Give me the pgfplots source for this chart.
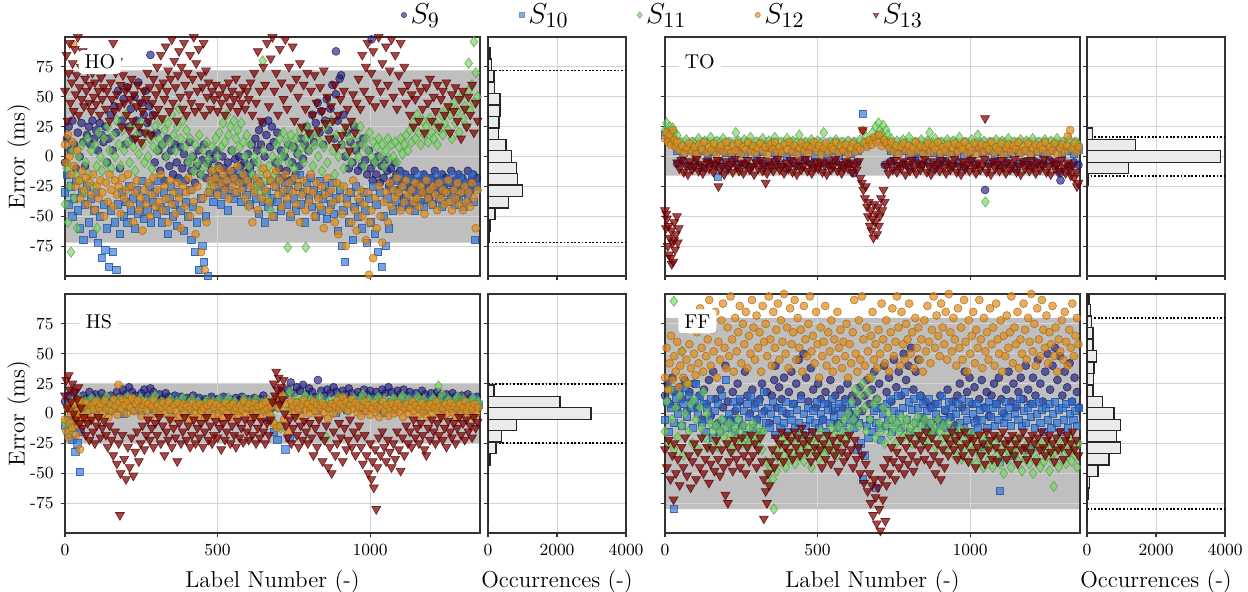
\documentclass[border=0pt]{standalone}
\usepackage{pgfplots}
\pgfplotsset{compat=1.18}
\definecolor{c9}{RGB}{30,30,130}
\definecolor{c10}{RGB}{45,115,220}
\definecolor{c11}{RGB}{115,215,95}
\definecolor{c12}{RGB}{225,140,25}
\definecolor{c13}{RGB}{125,0,0}
\tikzset{tag/.style={fill=white, rounded corners=2pt, inner xsep=3pt, inner ysep=2pt, minimum height=12pt, font=\fontsize{10}{11}\selectfont}}
\pgfplotsset{
 common/.style={set layers, scale only axis, height=119.5pt, enlargelimits=false,
  axis line style={black!80, line width=0.6pt}, tick style={black!80, line width=0.6pt},
  tick align=outside, major tick length=2.2pt, xtick pos=bottom, ytick pos=left,
  grid=major, grid style={black!17, line width=0.5pt},
  tick label style={font=\fontsize{8.5}{9}\selectfont},
  label style={font=\fontsize{11.5}{12}\selectfont}, ylabel shift=-7pt,
  ymin=-100, ymax=100, ytick={-75,-50,-25,0,25,50,75}},
 sc/.style={common, width=207.5pt, xmin=0, xmax=1360, xtick={0,500,1000}, xticklabels={0,500,1000},
  yticklabels={-75,-50,-25,0,25,50,75}},
 hi/.style={common, width=69pt, xmin=0, xmax=4000, xtick={0,2000,4000}, xticklabels={0,2000,4000}, yticklabels={}},
 band/.style={draw=none, fill=black!25, on layer=axis background, forget plot},
 bars/.style={xbar, bar width=9.6, fill=black!8, draw=black!85, line width=0.7pt, forget plot},
 dot/.style={black, line width=0.9pt, dash pattern=on 0.9pt off 0.9pt, forget plot},
 s9/.style={only marks, forget plot, mark=*, mark size=2.0pt, mark options={fill=c9, draw=c9!60!black, line width=0.3pt, fill opacity=0.65, draw opacity=0.75}},
 s10/.style={only marks, forget plot, mark=square*, mark size=1.8pt, mark options={fill=c10, draw=c10!70!black, line width=0.3pt, fill opacity=0.65, draw opacity=0.75}},
 s11/.style={only marks, forget plot, mark=diamond*, mark size=2.6pt, mark options={fill=c11, draw=c11!70!black, line width=0.3pt, fill opacity=0.65, draw opacity=0.75}},
 s12/.style={only marks, forget plot, mark=*, mark size=2.0pt, mark options={fill=c12, draw=c12!70!black, line width=0.3pt, fill opacity=0.7, draw opacity=0.75}},
 s13/.style={only marks, forget plot, mark=triangle*, mark size=2.6pt, mark options={rotate=180, fill=c13, draw=c13!70!black, line width=0.3pt, fill opacity=0.72, draw opacity=0.8}},
}
\begin{document}
\begin{tikzpicture}
% ================= HO =================
\begin{axis}[sc, at={(32.5pt,157.5pt)}, anchor=south west, xticklabels={}, ylabel={Error (ms)},
 legend style={at={(0.795,1.092)}, anchor=west, legend columns=5, draw=none, fill=none,
  font=\fontsize{15}{16}\selectfont, /tikz/every even column/.append style={column sep=28.5pt}},
 legend cell align=left]
\addlegendimage{only marks, mark=*, mark size=1.3pt, mark options={fill=c9, draw=c9!60!black, opacity=0.6}}
\addlegendentry{\makebox[24pt][l]{$S_{9}$}}
\addlegendimage{only marks, mark=square*, mark size=1.2pt, mark options={fill=c10, draw=c10!70!black, opacity=0.6}}
\addlegendentry{\makebox[24pt][l]{$S_{10}$}}
\addlegendimage{only marks, mark=diamond*, mark size=1.6pt, mark options={fill=c11, draw=c11!70!black, opacity=0.6}}
\addlegendentry{\makebox[24pt][l]{$S_{11}$}}
\addlegendimage{only marks, mark=*, mark size=1.3pt, mark options={fill=c12, draw=c12!70!black, opacity=0.6}}
\addlegendentry{\makebox[24pt][l]{$S_{12}$}}
\addlegendimage{only marks, mark=triangle*, mark size=1.5pt, mark options={rotate=180, fill=c13, draw=c13!70!black, opacity=0.6}}
\addlegendentry{\makebox[24pt][l]{$S_{13}$}}
\addplot[band] coordinates {(0,-72)(1360,-72)(1360,72)(0,72)} \closedcycle;
\addplot[s9] coordinates {(0,-5)(6,15)(12,25)(18,5)(24,30)(30,10)(36,-10)(42,20)(48,0)(54,28)(60,12)(66,-8)(72,18)(78,25)(84,10)(90,30)(96,15)(102,22)(108,5)(114,28)(120,18)(126,12)(132,25)(138,-5)(144,15)(150,35)(156,5)(162,42)(168,20)(174,55)(180,-10)(186,30)(192,48)(198,10)(204,58)(210,25)(216,40)(222,15)(228,50)(234,30)(240,62)(246,20)(252,45)(258,35)(264,55)(270,28)(276,42)(280,85)(282,18)(288,35)(294,-5)(300,20)(306,5)(312,-12)(318,10)(324,-20)(330,0)(336,15)(342,-8)(348,5)(354,-15)(360,10)(366,-5)(372,-18)(378,8)(384,-10)(390,2)(396,-20)(402,-5)(408,12)(414,-12)(420,0)(426,-22)(432,-8)(438,5)(444,-15)(450,-3)(456,10)(462,-18)(468,-6)(474,2)(480,-12)(486,-2)(492,-15)(498,5)(504,-8)(510,-20)(516,0)(522,-10)(528,-25)(534,-5)(540,-15)(546,5)(552,-12)(558,-2)(564,-18)(570,0)(576,-8)(582,-22)(588,-5)(594,-14)(600,2)(606,-10)(612,10)(618,-5)(624,15)(630,5)(636,22)(642,10)(648,28)(654,0)(660,18)(666,30)(672,8)(678,25)(684,12)(690,-5)(696,20)(702,-10)(708,5)(714,-18)(720,0)(726,-12)(732,10)(738,-20)(744,-5)(750,8)(756,-15)(762,2)(768,-8)(774,15)(780,-2)(786,10)(792,25)(798,5)(804,18)(810,35)(816,12)(822,28)(828,45)(834,20)(840,38)(846,10)(852,30)(858,48)(864,22)(870,40)(876,60)(882,15)(888,88)(888,52)(894,30)(900,65)(905,68)(906,10)(912,35)(918,0)(924,20)(930,-10)(936,12)(942,-5)(948,25)(954,5)(960,-12)(966,10)(972,-8)(978,15)(984,-3)(990,-15)(996,5)(1002,-10)(1005,98)(1008,-20)(1014,-5)(1020,-15)(1026,0)(1032,-22)(1038,-8)(1044,-18)(1050,-3)(1056,-12)(1062,-25)(1068,-10)(1074,-20)(1080,-5)(1086,-15)(1092,-28)(1098,-12)(1104,-22)(1110,-35)(1116,-15)(1122,-25)(1128,-40)(1134,-18)(1140,-30)(1146,-12)(1152,-25)(1158,-38)(1164,-20)(1170,-30)(1176,-15)(1182,-28)(1188,-22)(1194,-35)(1200,-18)(1206,-28)(1212,-12)(1218,-25)(1224,-20)(1230,-32)(1236,-15)(1242,-25)(1248,-18)(1254,-30)(1260,-22)(1266,-12)(1272,-28)(1278,-20)(1284,-35)(1290,-15)(1296,-25)(1302,-18)(1308,-30)(1314,-22)(1320,-12)(1326,-28)(1332,-20)(1338,-15)(1344,-25)(1350,-18)};
\addplot[s10] coordinates {(0,-30)(6,-15)(12,-40)(18,-25)(24,-50)(30,-35)(36,-20)(42,-45)(48,-60)(54,-30)(60,-70)(66,-40)(72,-25)(78,-55)(84,-35)(90,-65)(96,-45)(102,-30)(108,-72)(114,-50)(120,-85)(126,-40)(132,-78)(138,-60)(144,-92)(150,-45)(156,-80)(162,-55)(168,-95)(174,-40)(180,-65)(186,-30)(192,-50)(198,-38)(204,-55)(210,-25)(216,-45)(222,-35)(228,-60)(234,-28)(240,-48)(246,-40)(252,-20)(258,-52)(264,-35)(270,-45)(276,-25)(282,-55)(288,-38)(294,-30)(300,-48)(306,-20)(312,-42)(318,-55)(324,-30)(330,-45)(336,-65)(342,-35)(348,-25)(354,-50)(360,-40)(366,-58)(372,-30)(378,-45)(384,-20)(390,-62)(396,-38)(402,-50)(408,-28)(414,-70)(420,-42)(426,-80)(432,-55)(438,-95)(444,-35)(450,-75)(456,-88)(462,-50)(468,-100)(474,-30)(480,-22)(486,-38)(492,-15)(498,-30)(504,-25)(510,-40)(516,-18)(522,-32)(528,-22)(534,-45)(540,-28)(546,-15)(552,-35)(558,-20)(564,-30)(570,-12)(576,-38)(582,-25)(588,-18)(594,-32)(600,-22)(606,-40)(612,-15)(618,-28)(624,-35)(630,-20)(636,-48)(642,-25)(648,-38)(654,-55)(660,-30)(666,-42)(672,-20)(678,-35)(684,-50)(690,-25)(696,-38)(702,-18)(708,-45)(714,-30)(720,-22)(726,-40)(732,-28)(738,-50)(744,-20)(750,-35)(756,-45)(762,-25)(768,-15)(774,-40)(780,-30)(786,-55)(792,-22)(798,-35)(804,-18)(810,-42)(816,-28)(822,-50)(828,-32)(834,-20)(840,-45)(846,-35)(852,-25)(858,-52)(864,-30)(870,-40)(876,-22)(882,-48)(888,-35)(894,-62)(900,-28)(906,-75)(912,-45)(918,-88)(924,-35)(930,-55)(936,-30)(942,-70)(948,-42)(954,-25)(960,-50)(966,-38)(972,-60)(978,-30)(984,-45)(990,-72)(996,-35)(1002,-55)(1008,-25)(1014,-65)(1020,-40)(1026,-80)(1032,-30)(1038,-92)(1044,-50)(1050,-75)(1056,-35)(1062,-60)(1068,-28)(1074,-45)(1080,-20)(1086,-38)(1092,-30)(1098,-15)(1104,-42)(1110,-25)(1116,-35)(1122,-18)(1128,-40)(1134,-28)(1140,-20)(1146,-45)(1152,-30)(1158,-15)(1164,-38)(1170,-25)(1176,-42)(1182,-18)(1188,-35)(1194,-28)(1200,-20)(1206,-40)(1212,-30)(1218,-15)(1224,-35)(1230,-25)(1236,-42)(1242,-20)(1248,-30)(1254,-38)(1260,-22)(1266,-32)(1272,-15)(1278,-40)(1284,-25)(1290,-35)(1296,-18)(1302,-30)(1308,-42)(1314,-22)(1320,-35)(1326,-28)(1332,-15)(1338,-38)(1344,-70)(1350,-25)};
\addplot[s11] coordinates {(0,-40)(5,-10)(10,-55)(15,-25)(20,-80)(25,5)(30,-35)(35,-15)(40,-60)(45,0)(50,-20)(56,10)(62,-30)(68,-5)(74,15)(80,-15)(86,5)(92,-25)(98,10)(104,-8)(105,-60)(110,20)(116,0)(122,-12)(128,15)(134,-5)(140,25)(146,5)(152,-10)(158,18)(164,0)(170,30)(176,10)(182,-8)(188,22)(194,5)(200,35)(206,12)(212,-5)(218,25)(224,8)(230,-12)(236,18)(242,2)(248,28)(254,10)(260,-5)(266,20)(272,0)(278,15)(284,-10)(290,8)(296,25)(302,5)(308,15)(314,30)(320,10)(326,22)(332,0)(338,28)(344,12)(350,35)(356,18)(362,5)(368,25)(374,40)(380,15)(386,30)(392,8)(398,22)(404,-5)(410,15)(416,0)(422,-12)(428,10)(434,-5)(440,18)(446,-15)(452,5)(458,-8)(464,12)(470,-2)(476,-25)(482,8)(488,-10)(494,15)(500,0)(506,20)(512,8)(518,28)(524,12)(530,35)(536,18)(542,25)(548,5)(554,30)(560,15)(566,22)(572,8)(578,28)(584,12)(590,0)(596,18)(602,-8)(608,10)(614,-15)(620,0)(626,-25)(632,-5)(638,-30)(644,-12)(648,80)(650,5)(656,-20)(662,-35)(668,-8)(674,-45)(680,0)(686,-15)(692,10)(698,-5)(704,15)(710,0)(716,20)(722,5)(728,12)(730,-76)(734,-5)(740,18)(746,8)(752,-10)(758,15)(764,2)(770,22)(776,8)(782,-5)(788,15)(789,-76)(794,25)(800,5)(806,18)(812,-8)(818,10)(824,20)(830,0)(836,12)(842,-12)(848,8)(854,25)(860,-5)(866,15)(872,30)(878,5)(884,-15)(890,18)(896,0)(902,-25)(908,10)(914,-10)(920,22)(926,2)(932,15)(938,-5)(944,28)(950,8)(956,18)(962,0)(968,25)(974,10)(980,-8)(986,15)(992,5)(998,20)(1004,0)(1010,12)(1016,-5)(1022,8)(1028,15)(1034,0)(1040,10)(1046,-8)(1052,5)(1058,15)(1064,-2)(1070,10)(1076,0)(1082,12)(1088,-5)(1094,8)(1100,15)(1106,2)(1112,10)(1118,18)(1124,5)(1130,22)(1136,12)(1142,28)(1148,15)(1154,35)(1160,20)(1166,10)(1172,30)(1178,18)(1184,25)(1190,12)(1196,32)(1202,20)(1208,15)(1214,28)(1220,10)(1226,22)(1232,35)(1238,18)(1244,28)(1250,40)(1256,22)(1262,35)(1268,15)(1274,45)(1280,28)(1286,38)(1292,20)(1298,50)(1304,32)(1310,42)(1316,25)(1322,55)(1323,78)(1328,38)(1334,60)(1340,96)(1340,45)(1346,70)(1352,50)};
\addplot[s12] coordinates {(0,10)(5,-5)(10,18)(15,0)(20,-15)(25,12)(27,94)(30,-8)(35,-25)(40,5)(45,-20)(50,-35)(56,-12)(62,-28)(68,-18)(74,-40)(80,-22)(86,-32)(92,-15)(98,-45)(104,-25)(110,-35)(116,-20)(122,-30)(128,-50)(134,-22)(140,-38)(146,-15)(152,-28)(158,-42)(164,-20)(170,-32)(176,-25)(182,-48)(188,-18)(194,-35)(200,-28)(206,-15)(212,-40)(218,-25)(224,-55)(230,-30)(236,-20)(242,-45)(248,-35)(254,-62)(260,-28)(266,-40)(272,-22)(278,-50)(284,-32)(290,-18)(296,-42)(302,-28)(308,-38)(314,-15)(320,-45)(326,-25)(332,-35)(338,-55)(344,-20)(350,-40)(356,-30)(362,-48)(368,-22)(374,-35)(380,-60)(386,-25)(392,-42)(398,-30)(404,-18)(410,-50)(416,-28)(422,-38)(428,-65)(434,-25)(440,-45)(446,-80)(452,-35)(458,-95)(464,-55)(470,-30)(476,-20)(482,-12)(488,-25)(494,-18)(500,-32)(506,-10)(512,-22)(518,-15)(524,-28)(530,-20)(536,-35)(542,-12)(548,-25)(554,-18)(560,-30)(566,-8)(572,-22)(578,-28)(584,-15)(590,-35)(596,-20)(602,-42)(608,-25)(614,-55)(620,-30)(626,-18)(632,-45)(638,-22)(644,-35)(650,-10)(656,-28)(662,-15)(668,-38)(674,-20)(680,-50)(686,-25)(692,-12)(698,-32)(704,-20)(710,-42)(716,-28)(722,-15)(728,-35)(734,-22)(740,-48)(746,-30)(752,-18)(758,-40)(764,-25)(770,-55)(776,-32)(782,-20)(788,-45)(794,-28)(800,-38)(806,-15)(812,-30)(818,-50)(824,-22)(830,-35)(836,-42)(842,-25)(848,-60)(854,-32)(860,-18)(866,-45)(872,-28)(878,-38)(884,-55)(890,-22)(896,-65)(902,-35)(908,-48)(914,-25)(920,-75)(926,-40)(932,-30)(938,-55)(944,-20)(950,-45)(956,-62)(962,-35)(968,-28)(974,-50)(980,-40)(986,-70)(992,-30)(996,-99)(998,-55)(1004,-45)(1010,-85)(1016,-35)(1022,-60)(1028,-25)(1034,-50)(1040,-72)(1046,-38)(1052,-30)(1058,-55)(1064,-22)(1070,-42)(1076,-28)(1082,-35)(1088,-18)(1094,-30)(1100,-45)(1106,-25)(1112,-38)(1118,-20)(1124,-32)(1130,-45)(1136,-28)(1142,-38)(1148,-22)(1154,-35)(1160,-42)(1166,-25)(1172,-30)(1178,-48)(1184,-20)(1190,-35)(1196,-28)(1202,-40)(1208,-25)(1214,-32)(1220,-45)(1226,-22)(1232,-35)(1238,-28)(1244,-40)(1250,-30)(1256,-20)(1262,-38)(1268,-45)(1274,-28)(1280,-35)(1286,-22)(1292,-40)(1298,-30)(1304,-45)(1310,-25)(1316,-38)(1322,-30)(1328,-42)(1334,-22)(1340,-35)(1346,-60)(1352,-28)};
\addplot[s13] coordinates {(0,55)(5,85)(8,30)(12,70)(15,95)(18,45)(22,62)(25,78)(28,38)(32,90)(35,52)(38,68)(42,100)(45,35)(48,58)(52,75)(55,48)(58,88)(62,42)(66,65)(70,55)(74,72)(78,45)(82,60)(86,38)(90,70)(94,50)(98,62)(102,44)(106,78)(110,55)(114,35)(118,66)(122,48)(126,58)(130,72)(134,40)(138,55)(142,85)(146,30)(150,62)(154,48)(158,95)(162,38)(166,70)(170,52)(174,80)(178,42)(182,60)(186,25)(190,68)(194,45)(198,55)(202,35)(206,58)(210,22)(214,48)(218,65)(222,30)(226,52)(230,15)(234,42)(238,60)(242,25)(246,45)(250,12)(254,38)(258,55)(262,20)(266,48)(270,70)(274,30)(278,58)(282,18)(286,45)(290,65)(294,35)(298,52)(302,75)(306,40)(310,58)(314,85)(318,32)(322,62)(326,48)(330,92)(334,55)(338,72)(342,38)(346,65)(350,98)(354,45)(358,80)(362,58)(366,30)(370,68)(374,88)(378,50)(382,75)(386,40)(390,95)(394,60)(398,35)(402,70)(406,52)(410,85)(414,45)(418,65)(422,100)(426,38)(430,78)(434,55)(438,90)(442,42)(446,68)(450,58)(454,95)(458,35)(462,72)(466,50)(470,62)(476,40)(482,55)(488,48)(494,60)(500,38)(506,52)(512,45)(518,58)(524,35)(530,50)(536,62)(542,42)(548,55)(554,48)(560,65)(566,38)(572,52)(578,45)(584,58)(590,40)(596,55)(602,48)(608,62)(614,35)(620,70)(626,45)(632,88)(638,55)(644,30)(650,75)(656,60)(662,95)(668,42)(674,82)(680,100)(686,55)(692,70)(698,35)(704,90)(710,62)(716,48)(722,98)(728,40)(734,75)(740,58)(746,92)(752,30)(758,65)(764,50)(770,78)(776,25)(782,60)(788,40)(794,70)(800,20)(806,55)(812,35)(818,68)(824,45)(830,22)(836,58)(842,38)(848,72)(854,28)(860,50)(866,15)(872,42)(878,30)(884,60)(890,8)(896,35)(902,48)(908,18)(914,55)(920,25)(926,40)(932,5)(938,30)(944,52)(950,20)(956,45)(962,65)(968,40)(974,85)(980,55)(986,75)(992,95)(998,48)(1004,70)(1010,88)(1016,42)(1022,62)(1028,100)(1034,55)(1040,78)(1046,45)(1052,92)(1058,60)(1064,72)(1070,98)(1076,50)(1082,85)(1088,40)(1094,68)(1100,95)(1106,55)(1112,75)(1118,45)(1124,60)(1130,35)(1136,52)(1142,25)(1148,48)(1154,62)(1160,30)(1166,55)(1172,40)(1178,20)(1184,58)(1190,45)(1196,65)(1202,30)(1208,50)(1214,38)(1220,60)(1226,25)(1232,48)(1238,55)(1244,35)(1250,62)(1256,42)(1262,20)(1268,52)(1274,38)(1280,58)(1286,30)(1292,48)(1298,15)(1304,55)(1310,40)(1316,25)(1322,50)(1328,35)(1334,60)(1340,20)(1346,45)(1352,30)};
\end{axis}
\begin{axis}[hi, at={(244pt,157.5pt)}, anchor=south west, xticklabels={}]
\addplot[dot] coordinates {(0,72)(4000,72)};
\addplot[dot] coordinates {(0,-72)(4000,-72)};
\addplot[bars] coordinates {(20,96)(58,86.4)(106,76.8)(174,67.2)(193,57.6)(348,48)(348,38.4)(319,28.8)(300,19.2)(522,9.6)(686,0)(831,-9.6)(850,-19.2)(1005,-28.8)(589,-38.4)(203,-48)(58,-57.6)(29,-67.2)(20,-76.8)(15,-86.4)(10,-96)};
\end{axis}
% ================= TO =================
\begin{axis}[sc, at={(332.5pt,157.5pt)}, anchor=south west, xticklabels={}, yticklabels={}]
\addplot[band] coordinates {(0,-16)(1360,-16)(1360,16)(0,16)} \closedcycle;
\addplot[s9] coordinates {(40,-6)(60,-4)(80,-8)(100,-5)(120,-9)(140,-3)(160,-7)(180,-5)(200,-10)(220,-4)(240,-7)(260,-6)(280,-9)(300,-3)(320,-6)(340,-8)(360,-4)(380,-7)(400,-10)(420,-5)(440,-8)(460,-3)(480,-6)(500,-9)(520,-5)(540,-7)(560,-4)(580,-8)(600,-6)(618,-14)(630,-5)(720,-7)(740,-4)(760,-8)(780,-6)(800,-9)(820,-3)(840,-7)(860,-5)(880,-10)(900,-6)(920,-4)(940,-8)(960,-5)(980,-9)(1000,-3)(1020,-7)(1049,-28)(1060,-6)(1080,-4)(1100,-8)(1120,-5)(1143,-10)(1160,-6)(1180,-4)(1200,-8)(1220,-5)(1240,-7)(1260,-3)(1280,-6)(1294,-14)(1296,-20)(1320,-8)(1340,-5)(1355,-7)};
\addplot[s10] coordinates {(0,18)(8,22)(16,15)(24,20)(32,12)(40,5)(60,3)(80,6)(100,2)(120,5)(140,1)(160,4)(173,-17)(180,6)(200,3)(220,0)(240,5)(260,2)(280,6)(300,1)(320,4)(340,7)(360,3)(380,5)(400,0)(420,4)(440,2)(455,8)(470,6)(490,1)(510,4)(530,2)(550,5)(570,1)(590,4)(610,2)(630,5)(648,36)(660,10)(680,14)(700,18)(720,12)(740,5)(760,2)(780,5)(800,1)(820,4)(840,2)(860,6)(880,3)(900,0)(920,4)(940,2)(960,5)(980,1)(1000,4)(1020,7)(1040,3)(1060,5)(1080,1)(1100,4)(1120,2)(1140,6)(1160,3)(1180,5)(1200,1)(1220,4)(1240,2)(1260,5)(1280,8)(1300,3)(1320,5)(1340,2)(1355,6)};
\addplot[s11] coordinates {(0,22)(5,28)(10,18)(15,25)(20,15)(25,24)(30,20)(35,12)(40,18)(45,8)(50,12)(60,9)(70,14)(80,7)(90,12)(100,10)(110,15)(120,8)(130,13)(140,10)(150,16)(160,9)(170,13)(180,11)(190,15)(200,8)(210,12)(220,10)(232,20)(240,13)(250,9)(260,14)(270,11)(280,16)(290,8)(300,12)(310,10)(320,15)(330,9)(340,13)(350,11)(360,16)(370,8)(380,12)(390,10)(400,15)(410,9)(420,13)(430,11)(440,18)(450,8)(460,12)(470,10)(480,14)(490,9)(500,13)(510,11)(520,20)(530,8)(540,12)(550,10)(560,14)(570,9)(580,12)(590,10)(600,13)(610,8)(620,12)(630,9)(640,14)(650,11)(660,16)(670,12)(680,20)(690,25)(695,18)(700,28)(705,22)(710,19)(715,26)(720,15)(725,22)(730,18)(735,12)(740,15)(750,10)(760,13)(770,9)(780,14)(790,11)(800,16)(810,8)(820,12)(830,10)(840,14)(850,9)(860,13)(867,20)(875,11)(885,15)(895,8)(905,12)(915,10)(925,14)(935,9)(945,13)(955,11)(965,16)(975,8)(985,12)(995,10)(1005,14)(1015,9)(1025,18)(1035,11)(1045,13)(1050,-38)(1055,8)(1065,12)(1075,10)(1085,14)(1095,9)(1105,13)(1115,11)(1125,15)(1135,8)(1145,12)(1155,10)(1165,14)(1175,9)(1185,13)(1195,11)(1205,15)(1215,8)(1225,12)(1235,10)(1245,14)(1255,9)(1265,13)(1275,11)(1285,15)(1295,8)(1305,12)(1315,10)(1325,14)(1335,9)(1345,12)(1355,10)};
\addplot[s12] coordinates {(0,15)(5,20)(10,12)(15,18)(20,10)(25,22)(30,14)(35,8)(40,12)(48,5)(56,9)(64,3)(72,7)(80,11)(88,4)(96,8)(104,2)(112,10)(120,6)(128,12)(136,3)(144,8)(152,5)(160,11)(168,2)(176,7)(184,9)(192,4)(200,12)(208,6)(216,3)(224,9)(232,5)(240,11)(248,2)(256,8)(264,6)(272,12)(280,4)(288,9)(296,3)(304,7)(312,11)(320,5)(328,8)(336,2)(344,10)(352,6)(360,12)(368,4)(376,8)(384,3)(392,10)(400,6)(408,12)(416,4)(424,9)(432,2)(440,7)(448,11)(456,5)(464,9)(472,3)(480,8)(488,12)(496,5)(504,9)(512,2)(520,7)(528,11)(536,4)(544,8)(552,6)(560,12)(568,3)(576,9)(584,5)(592,10)(600,2)(608,7)(616,11)(624,4)(632,8)(640,6)(648,22)(655,12)(662,8)(670,14)(678,10)(686,16)(694,12)(702,18)(710,9)(718,14)(726,11)(734,7)(742,12)(750,4)(758,9)(766,2)(774,8)(782,11)(790,5)(798,9)(806,3)(814,7)(822,12)(830,5)(838,9)(846,2)(854,8)(862,11)(870,4)(878,9)(886,6)(894,12)(902,3)(910,8)(918,5)(926,10)(934,2)(942,7)(950,11)(958,4)(966,9)(974,6)(982,12)(990,3)(998,8)(1006,5)(1014,11)(1022,2)(1030,7)(1038,10)(1046,4)(1054,9)(1062,6)(1070,12)(1078,3)(1086,8)(1094,5)(1102,11)(1110,2)(1118,7)(1126,10)(1134,4)(1142,9)(1150,6)(1158,12)(1166,3)(1174,8)(1182,5)(1190,11)(1198,2)(1206,7)(1214,10)(1222,4)(1230,9)(1238,6)(1246,12)(1254,3)(1262,8)(1270,5)(1278,11)(1286,2)(1294,7)(1302,10)(1310,4)(1318,9)(1320,17)(1328,22)(1334,6)(1342,11)(1350,4)(1356,8)};
\addplot[s13] coordinates {(0,-45)(3,-60)(4,-48)(6,-52)(9,-75)(12,-58)(14,-82)(15,-68)(18,-85)(21,-62)(22,-90)(24,-72)(27,-88)(30,-55)(30,-70)(33,-78)(36,-65)(39,-50)(42,-72)(45,-60)(40,-5)(47,-10)(54,-3)(61,-13)(68,-7)(75,-15)(82,-4)(89,-11)(96,-8)(103,-2)(110,-12)(117,-6)(124,-14)(131,-9)(138,-4)(145,-10)(152,-5)(159,-13)(166,-7)(175,-25)(173,-3)(180,-11)(187,-8)(194,-15)(201,-4)(208,-10)(215,-6)(222,-13)(229,-2)(236,-9)(243,-12)(250,-5)(257,-14)(264,-7)(271,-3)(278,-11)(285,-8)(292,-15)(299,-5)(306,-10)(313,-3)(320,-12)(330,-22)(327,-7)(334,-14)(341,-4)(348,-9)(355,-12)(362,-6)(369,-2)(376,-11)(383,-8)(390,-14)(397,-5)(404,-10)(411,-3)(418,-13)(425,-7)(432,-15)(439,-4)(446,-11)(453,-8)(460,-2)(467,-12)(474,-6)(481,-14)(488,-9)(495,-4)(502,-10)(509,-5)(516,-13)(523,-7)(530,-15)(537,-4)(544,-11)(551,-8)(558,-2)(565,-12)(572,-6)(579,-14)(586,-9)(593,-4)(600,-10)(607,-5)(614,-13)(621,-7)(628,-11)(635,-4)(648,22)(640,-18)(645,-22)(650,-28)(655,-35)(658,-25)(662,-42)(665,-50)(668,-38)(671,-58)(674,-45)(677,-62)(680,-52)(683,-68)(686,-40)(689,-55)(692,-48)(695,-65)(698,-42)(701,-58)(704,-50)(708,-35)(712,-45)(716,-28)(720,-38)(725,-8)(732,-14)(739,-5)(746,-11)(753,-3)(760,-13)(767,-7)(774,-10)(781,-4)(788,-15)(795,-6)(802,-12)(809,-3)(816,-9)(823,-14)(830,-5)(837,-11)(844,-7)(851,-2)(858,-13)(865,-8)(872,-15)(879,-4)(886,-10)(893,-6)(900,-12)(907,-3)(914,-9)(921,-14)(928,-5)(935,-11)(942,-7)(949,-2)(956,-13)(963,-8)(970,-15)(977,-4)(984,-10)(991,-6)(998,-12)(1005,-3)(1012,-9)(1019,-14)(1026,-5)(1033,-11)(1040,-7)(1049,32)(1047,-2)(1054,-13)(1061,-8)(1068,-15)(1075,-4)(1082,-10)(1089,-6)(1096,-12)(1103,-3)(1110,-9)(1117,-14)(1124,-5)(1131,-11)(1138,-7)(1145,-2)(1152,-13)(1159,-8)(1166,-15)(1173,-4)(1180,-10)(1187,-6)(1194,-12)(1201,-3)(1208,-9)(1215,-14)(1222,-5)(1229,-11)(1236,-7)(1243,-2)(1250,-13)(1257,-8)(1264,-15)(1271,-4)(1278,-10)(1285,-6)(1292,-12)(1299,-3)(1306,-9)(1313,-14)(1320,-5)(1327,-11)(1330,-16)(1334,-7)(1341,-18)(1348,-13)(1350,-25)(1355,-22)};
\end{axis}
\begin{axis}[hi, at={(543.5pt,157.5pt)}, anchor=south west, xticklabels={}]
\addplot[dot] coordinates {(0,16)(4000,16)};
\addplot[dot] coordinates {(0,-16)(4000,-16)};
\addplot[bars] coordinates {(5,38.4)(20,28.8)(155,19.2)(1410,9.6)(3864,0)(1207,-9.6)(48,-19.2)(15,-28.8)(10,-38.4)(10,-48)(15,-57.6)(15,-67.2)(10,-76.8)(8,-86.4)};
\end{axis}
% ================= HS =================
\begin{axis}[sc, at={(32.5pt,29pt)}, anchor=south west, ylabel={Error (ms)}, xlabel={Label Number (-)}]
\addplot[band] coordinates {(0,-24.5)(1360,-24.5)(1360,24.5)(0,24.5)} \closedcycle;
\addplot[s9] coordinates {(0,10)(10,15)(20,5)(30,18)(40,12)(50,8)(60,15)(70,12)(80,18)(90,14)(100,16)(110,11)(120,17)(130,13)(140,9)(150,15)(160,12)(170,18)(180,14)(190,20)(200,16)(210,22)(220,18)(230,15)(240,12)(250,17)(260,20)(270,15)(280,21)(290,18)(300,13)(310,16)(320,12)(330,17)(340,14)(350,10)(360,15)(370,12)(380,14)(390,9)(400,13)(410,11)(420,15)(430,10)(440,13)(450,8)(460,12)(470,10)(480,14)(490,9)(500,12)(510,10)(520,14)(530,8)(540,12)(550,9)(560,13)(570,11)(580,14)(590,8)(600,12)(610,10)(620,13)(630,9)(640,12)(650,15)(660,10)(670,-5)(680,5)(690,12)(700,8)(710,18)(720,15)(730,20)(740,26)(750,17)(760,22)(770,19)(780,24)(790,16)(800,21)(810,18)(820,14)(829,28)(840,19)(850,15)(860,20)(870,17)(880,22)(890,18)(900,14)(910,19)(920,16)(930,21)(940,17)(950,13)(960,18)(970,15)(980,20)(990,16)(1000,19)(1010,14)(1020,18)(1030,15)(1040,20)(1050,17)(1060,22)(1070,18)(1080,14)(1090,19)(1100,16)(1110,20)(1120,15)(1130,18)(1140,13)(1150,17)(1160,14)(1170,19)(1180,16)(1190,12)(1200,17)(1210,14)(1220,18)(1230,15)(1240,11)(1250,16)(1260,13)(1270,17)(1280,14)(1290,10)(1300,15)(1310,12)(1320,16)(1330,13)(1340,10)(1350,14)};
\addplot[s10] coordinates {(0,-10)(8,-18)(16,-5)(24,-22)(32,-12)(34,-32)(40,-25)(48,-49)(50,-15)(60,5)(72,10)(84,3)(96,8)(108,1)(120,6)(132,11)(144,2)(156,7)(168,4)(180,9)(192,0)(204,6)(216,10)(228,3)(240,8)(252,2)(264,7)(276,11)(288,4)(300,9)(312,1)(324,6)(336,10)(348,3)(360,8)(372,13)(384,5)(396,9)(408,2)(420,7)(432,11)(444,4)(456,8)(468,1)(480,6)(492,10)(504,3)(516,8)(528,12)(540,5)(552,9)(564,2)(576,7)(588,11)(600,4)(612,8)(624,1)(636,6)(648,10)(660,3)(672,-5)(684,-15)(696,-22)(708,-10)(722,-30)(735,-20)(745,5)(756,10)(768,3)(780,8)(792,12)(804,5)(816,9)(828,2)(840,7)(852,11)(864,4)(876,8)(888,1)(900,6)(912,10)(924,3)(936,8)(948,12)(960,5)(972,9)(984,2)(996,7)(1008,11)(1020,4)(1032,8)(1044,1)(1056,6)(1068,10)(1080,3)(1092,8)(1104,12)(1116,5)(1128,9)(1140,13)(1152,6)(1164,10)(1176,3)(1188,8)(1200,12)(1212,5)(1224,9)(1236,2)(1248,7)(1260,11)(1272,4)(1284,8)(1296,1)(1308,6)(1320,10)(1332,3)(1344,13)(1355,7)};
\addplot[s11] coordinates {(0,-8)(8,5)(16,-15)(24,10)(32,-5)(40,0)(48,12)(56,5)(66,10)(76,3)(86,13)(96,6)(106,11)(116,2)(126,8)(136,14)(146,4)(156,10)(166,7)(176,12)(186,3)(196,9)(206,14)(216,5)(226,11)(236,8)(246,13)(256,4)(266,10)(276,7)(286,12)(296,15)(306,6)(316,10)(326,3)(336,9)(346,12)(356,5)(366,10)(376,7)(386,13)(396,4)(406,9)(416,12)(426,6)(436,10)(446,3)(456,8)(466,11)(476,5)(486,10)(496,7)(506,12)(516,4)(526,9)(536,13)(546,6)(556,10)(566,3)(576,8)(586,12)(596,5)(606,10)(616,7)(626,12)(636,4)(646,9)(656,6)(666,11)(676,-2)(686,-8)(696,5)(706,-12)(716,14)(726,2)(736,18)(746,10)(756,13)(766,5)(776,11)(786,15)(796,7)(806,12)(816,4)(826,10)(836,14)(846,8)(856,-20)(866,11)(876,5)(886,10)(896,14)(906,7)(916,12)(926,3)(936,9)(946,13)(956,6)(966,11)(976,16)(986,8)(996,12)(1006,5)(1016,10)(1026,14)(1036,7)(1046,12)(1056,4)(1066,9)(1076,13)(1086,6)(1096,11)(1106,15)(1116,8)(1126,12)(1136,5)(1146,10)(1156,14)(1166,7)(1176,12)(1186,4)(1196,9)(1206,13)(1216,6)(1224,23)(1226,11)(1236,16)(1246,8)(1256,12)(1266,5)(1276,10)(1286,14)(1296,7)(1306,12)(1316,4)(1326,9)(1336,13)(1346,6)(1355,10)};
\addplot[s12] coordinates {(0,-5)(4,-15)(8,5)(12,-20)(16,-8)(20,0)(24,-12)(28,8)(32,-3)(36,-18)(40,2)(44,-10)(49,-30)(48,10)(52,-2)(58,6)(64,-4)(70,9)(76,1)(82,-6)(88,7)(94,3)(100,10)(106,-2)(112,5)(118,8)(124,0)(130,11)(136,4)(142,-3)(148,8)(154,2)(160,12)(166,6)(172,-1)(175,24)(178,9)(184,4)(190,12)(196,7)(202,0)(208,10)(214,5)(220,13)(226,2)(232,8)(238,11)(244,4)(250,-2)(256,7)(262,10)(268,3)(274,8)(280,-3)(286,6)(292,11)(298,2)(304,7)(310,-1)(316,5)(322,9)(328,0)(334,6)(340,10)(346,3)(352,-4)(358,7)(364,2)(370,9)(376,-2)(382,5)(388,8)(394,1)(400,6)(406,-5)(412,4)(418,9)(424,0)(430,6)(436,-3)(442,8)(448,2)(454,5)(460,-4)(466,7)(472,1)(478,9)(484,-2)(490,5)(496,8)(502,0)(508,6)(514,-4)(520,3)(526,9)(532,1)(538,6)(544,-3)(550,8)(556,2)(562,5)(568,-1)(574,7)(580,3)(586,10)(592,0)(598,5)(604,8)(610,-2)(616,4)(622,9)(628,1)(634,6)(640,-3)(646,7)(652,2)(658,10)(664,4)(670,-1)(676,6)(682,-8)(688,12)(694,-12)(700,5)(706,-10)(712,15)(718,-5)(724,8)(730,-15)(736,2)(742,10)(748,6)(754,1)(760,9)(766,4)(772,-2)(778,7)(784,11)(790,3)(796,8)(802,0)(808,5)(814,10)(820,2)(826,7)(832,-3)(838,5)(844,9)(850,1)(856,6)(862,-4)(868,4)(874,8)(880,0)(886,6)(892,11)(898,3)(904,8)(910,14)(916,5)(922,10)(928,2)(934,7)(940,12)(946,4)(952,9)(958,1)(964,6)(970,-2)(976,5)(982,10)(988,2)(994,7)(1000,-1)(1006,4)(1012,9)(1018,1)(1024,6)(1030,-3)(1036,5)(1042,10)(1048,2)(1054,7)(1060,-2)(1066,4)(1072,8)(1078,0)(1084,5)(1090,9)(1096,1)(1102,6)(1108,-3)(1114,4)(1120,8)(1126,0)(1132,5)(1138,10)(1144,2)(1150,7)(1156,-2)(1162,4)(1168,9)(1174,1)(1180,6)(1186,-3)(1192,5)(1198,8)(1204,0)(1210,5)(1216,10)(1222,2)(1228,6)(1234,-2)(1240,4)(1246,8)(1252,0)(1258,5)(1264,9)(1270,1)(1276,6)(1282,-3)(1288,4)(1294,8)(1300,0)(1306,5)(1312,10)(1318,2)(1324,6)(1330,-2)(1336,4)(1342,8)(1348,0)(1355,5)};
\addplot[s13] coordinates {(0,15)(4,28)(8,5)(12,32)(16,20)(20,10)(24,25)(28,0)(32,18)(36,-5)(40,12)(44,22)(48,-8)(52,5)(56,-12)(62,-3)(68,-18)(74,-8)(80,-22)(86,-5)(92,-15)(98,-25)(104,-10)(110,-3)(116,-20)(122,-12)(128,-6)(134,-18)(140,-28)(146,-10)(152,-22)(158,-35)(164,-15)(170,-42)(176,-25)(180,-85)(182,-50)(188,-18)(194,-38)(200,-55)(206,-28)(212,-45)(218,-20)(224,-52)(230,-32)(236,-15)(242,-40)(248,-25)(254,-10)(260,-30)(266,-18)(272,-5)(278,-22)(284,-12)(290,-28)(296,-8)(302,-18)(308,-3)(314,-25)(320,-10)(326,-35)(332,-15)(338,-22)(344,-5)(350,-28)(356,-12)(362,-20)(368,-40)(374,-8)(380,-25)(386,-15)(392,-3)(398,-22)(404,-10)(410,-28)(416,-18)(422,-5)(428,-25)(434,-12)(440,-20)(446,-8)(452,-28)(458,-15)(464,-3)(470,-22)(476,-10)(482,-25)(488,-18)(494,-6)(500,-20)(506,-12)(512,-30)(518,-8)(524,-22)(530,-15)(536,-3)(542,-25)(548,-10)(554,-18)(560,-28)(566,-6)(572,-20)(578,-12)(584,-24)(590,-5)(596,-15)(602,-22)(608,-8)(614,-18)(620,-3)(626,-25)(632,-12)(638,-20)(644,-6)(650,-15)(656,-25)(662,-8)(668,-18)(674,-5)(680,10)(684,25)(688,15)(692,35)(696,20)(700,30)(704,8)(708,22)(712,12)(716,28)(720,0)(724,-10)(730,-20)(736,-5)(742,-25)(748,-12)(754,-3)(760,-18)(766,-28)(772,-10)(778,-22)(784,-6)(790,-15)(796,-25)(802,-8)(808,-20)(814,-35)(820,-12)(826,-28)(832,-5)(838,-18)(844,-40)(850,-22)(856,-10)(862,-45)(868,-28)(874,-50)(880,-15)(886,-35)(892,-25)(898,-8)(904,-20)(910,-40)(916,-12)(922,-30)(928,-22)(934,-5)(940,-28)(946,-15)(952,-35)(958,-20)(964,-10)(970,-28)(976,-42)(982,-18)(988,-35)(994,-50)(1000,-25)(1004,-55)(1008,-40)(1012,-62)(1016,-30)(1020,-80)(1024,-45)(1028,-20)(1034,-35)(1040,-15)(1046,-28)(1052,-40)(1058,-22)(1064,-32)(1070,-45)(1076,-25)(1082,-38)(1088,-15)(1094,-30)(1100,-48)(1106,-20)(1112,-35)(1118,-10)(1124,-25)(1130,-15)(1136,-28)(1142,-5)(1148,-20)(1154,-12)(1160,-25)(1166,-8)(1172,-18)(1178,-30)(1184,-35)(1190,-12)(1196,-22)(1202,-5)(1208,-15)(1214,-25)(1220,-8)(1226,-18)(1232,-3)(1238,-22)(1244,-12)(1250,-28)(1256,-6)(1262,-15)(1268,-20)(1274,-8)(1280,-25)(1286,-12)(1292,-3)(1298,-18)(1304,-8)(1310,-22)(1316,-5)(1322,-15)(1328,-10)(1334,-20)(1340,-3)(1346,-12)(1352,-7)};
\end{axis}
\begin{axis}[hi, at={(244pt,29pt)}, anchor=south west, xlabel={Occurrences (-)}]
\addplot[dot] coordinates {(0,24.5)(4000,24.5)};
\addplot[dot] coordinates {(0,-24.5)(4000,-24.5)};
\addplot[bars] coordinates {(20,28.8)(174,19.2)(2086,9.6)(2985,0)(831,-9.6)(396,-19.2)(232,-28.8)(58,-38.4)(20,-48)(10,-57.6)(8,-67.2)(8,-76.8)(5,-86.4)};
\end{axis}
% ================= FF =================
\begin{axis}[sc, at={(332.5pt,29pt)}, anchor=south west, yticklabels={}, xlabel={Label Number (-)}]
\addplot[band] coordinates {(0,-80)(1360,-80)(1360,80)(0,80)} \closedcycle;
\addplot[s9] coordinates {(0,15)(8,25)(16,8)(24,30)(32,18)(40,5)(48,22)(56,12)(64,28)(72,2)(80,18)(88,10)(96,25)(104,5)(112,15)(120,-5)(128,20)(136,8)(144,28)(150,-2)(158,35)(166,12)(174,-8)(182,20)(190,5)(198,40)(206,10)(214,-5)(222,18)(230,2)(238,25)(246,10)(254,-10)(262,35)(270,15)(278,0)(286,20)(294,8)(302,-5)(310,12)(318,25)(326,2)(334,18)(342,-8)(350,15)(358,28)(362,40)(366,5)(374,22)(382,12)(390,30)(398,0)(406,18)(414,35)(422,8)(430,25)(438,45)(446,15)(454,50)(462,30)(470,10)(478,38)(486,20)(494,5)(502,25)(510,12)(518,-5)(526,18)(534,8)(542,28)(550,2)(558,15)(566,-8)(574,20)(582,5)(590,12)(598,25)(606,0)(614,15)(622,-5)(630,10)(638,22)(646,2)(654,15)(662,28)(670,8)(678,20)(686,35)(694,12)(702,25)(710,5)(718,40)(726,18)(734,30)(742,10)(750,45)(758,22)(766,35)(774,15)(782,50)(790,28)(798,40)(806,55)(814,20)(822,35)(830,45)(838,15)(846,-5)(854,10)(862,-10)(870,5)(878,-15)(886,8)(894,-5)(902,15)(910,-8)(918,2)(926,20)(934,-3)(942,10)(950,-10)(958,15)(966,25)(974,5)(982,35)(990,18)(998,30)(1006,8)(1014,22)(1022,-5)(1030,12)(1038,28)(1046,5)(1054,18)(1062,-2)(1070,15)(1078,25)(1086,8)(1094,30)(1102,12)(1110,0)(1118,20)(1126,35)(1134,10)(1142,25)(1150,5)(1158,18)(1166,30)(1174,12)(1182,40)(1190,20)(1198,8)(1206,30)(1214,15)(1222,45)(1230,25)(1238,10)(1246,35)(1254,50)(1262,20)(1270,40)(1278,55)(1286,28)(1294,48)(1302,15)(1310,35)(1318,22)(1326,42)(1334,10)(1342,30)(1350,18)(1356,5)};
\addplot[s10] coordinates {(0,-5)(6,10)(12,-15)(18,5)(24,20)(29,-80)(30,-8)(36,12)(42,0)(48,18)(54,-10)(60,8)(66,22)(72,-3)(78,15)(84,5)(90,-12)(96,10)(102,25)(108,0)(114,15)(120,-8)(126,8)(132,-15)(138,5)(144,-5)(150,12)(156,-20)(162,2)(168,-10)(174,8)(180,-15)(186,15)(192,-5)(198,28)(204,-12)(210,0)(216,-8)(222,10)(228,-15)(234,5)(240,-5)(246,12)(252,-10)(258,2)(264,-18)(270,8)(276,-3)(282,15)(288,-12)(294,5)(300,-5)(306,10)(312,-15)(318,0)(324,18)(330,-8)(336,5)(342,-12)(348,0)(354,10)(360,-18)(366,-5)(372,5)(378,-12)(384,2)(390,-8)(396,10)(402,-15)(408,0)(414,-5)(420,8)(426,-12)(432,3)(438,-8)(444,12)(450,-18)(456,0)(462,-10)(468,5)(474,-5)(480,-15)(486,2)(492,-8)(498,10)(504,-12)(510,0)(516,-5)(522,8)(528,-15)(534,3)(540,-8)(546,12)(552,-3)(558,5)(564,-12)(570,8)(576,0)(582,-8)(588,10)(594,-15)(600,2)(606,-5)(612,8)(618,-12)(624,0)(630,-30)(636,-8)(642,-25)(648,-55)(654,-35)(660,-10)(666,-20)(672,-5)(678,-15)(684,2)(690,-62)(690,-8)(696,5)(702,-12)(708,-22)(714,0)(720,-10)(726,8)(732,-5)(738,12)(744,-15)(750,2)(756,-8)(762,15)(768,0)(774,-12)(780,5)(786,18)(792,-5)(798,10)(804,-15)(810,3)(816,12)(822,-8)(828,5)(834,15)(840,-3)(846,8)(852,-12)(858,2)(864,12)(870,-8)(876,5)(882,-15)(888,0)(894,8)(900,-10)(906,15)(912,-5)(918,3)(924,-12)(930,10)(936,-3)(942,5)(948,-15)(954,0)(960,8)(966,-8)(972,12)(978,-12)(984,2)(990,-5)(996,10)(1002,-15)(1008,0)(1014,-8)(1020,8)(1026,-12)(1032,3)(1038,-5)(1044,-28)(1050,5)(1056,-12)(1062,10)(1068,-3)(1074,5)(1080,-10)(1086,8)(1092,-5)(1097,-65)(1098,-40)(1104,2)(1110,-8)(1116,10)(1122,-3)(1128,5)(1134,-10)(1140,-35)(1146,0)(1152,8)(1158,-5)(1164,12)(1170,-10)(1176,2)(1182,-8)(1188,5)(1194,-30)(1200,-3)(1206,8)(1212,-12)(1218,0)(1224,10)(1230,-8)(1236,3)(1242,-15)(1248,5)(1254,-5)(1260,8)(1266,-12)(1272,0)(1278,10)(1284,-8)(1290,3)(1296,-15)(1302,5)(1308,-5)(1314,8)(1320,-12)(1326,0)(1332,10)(1338,-5)(1344,2)(1350,-10)(1356,5)};
\addplot[s11] coordinates {(0,-15)(6,10)(12,-25)(18,20)(24,-5)(29,94)(30,-30)(36,5)(42,-20)(48,15)(54,-10)(56,52)(60,-35)(66,0)(72,25)(78,-15)(84,8)(90,-25)(96,12)(102,-5)(108,-30)(114,5)(120,-12)(126,18)(132,-20)(138,0)(144,-28)(150,-8)(156,-15)(162,-22)(168,-10)(174,-28)(180,-15)(186,-5)(192,-20)(198,-12)(204,-25)(210,-8)(216,-18)(222,-30)(228,-12)(234,-22)(240,-5)(246,-15)(252,-25)(258,-10)(264,-20)(270,-28)(276,-12)(282,-22)(288,-8)(294,-18)(300,-25)(306,-12)(312,-20)(318,-30)(324,-15)(330,-40)(336,-50)(342,-60)(348,-45)(354,-55)(357,-80)(360,-35)(366,-48)(372,-28)(378,-40)(384,-22)(390,-35)(396,-45)(402,-25)(408,-38)(414,-20)(420,-32)(426,-42)(432,-25)(438,-35)(444,-18)(450,-30)(456,-40)(462,-22)(468,-35)(474,-28)(480,-45)(486,-20)(492,-32)(498,-25)(504,-38)(510,-15)(516,-28)(522,-35)(528,-20)(534,-30)(540,-22)(546,-12)(552,-28)(558,-18)(564,-35)(570,-10)(576,-25)(582,-15)(588,-5)(594,-20)(600,0)(606,-12)(612,10)(618,-5)(624,20)(630,2)(636,-10)(642,15)(648,25)(654,5)(660,-15)(666,18)(672,-5)(678,30)(684,8)(690,-20)(696,12)(702,-8)(708,-15)(714,5)(720,-25)(726,-10)(732,0)(738,-18)(744,-5)(750,-12)(756,-25)(762,-8)(768,-15)(774,-3)(780,-20)(786,-10)(792,-5)(798,-18)(804,-12)(810,-25)(816,-8)(822,-15)(828,-3)(834,-20)(840,-10)(846,-25)(852,-5)(858,-15)(864,-22)(870,-8)(876,-18)(882,-12)(888,-28)(894,-5)(900,-15)(906,-22)(912,-10)(918,-30)(924,-18)(930,-8)(936,-25)(942,-15)(948,-35)(954,-20)(960,-28)(966,-12)(972,-38)(978,-22)(984,-30)(990,-15)(996,-40)(1002,-25)(1008,-32)(1014,-18)(1020,-42)(1026,-28)(1032,-35)(1038,-20)(1044,-45)(1050,-30)(1056,-22)(1062,-38)(1068,-28)(1074,-45)(1080,-25)(1086,-35)(1092,-20)(1098,-42)(1104,-30)(1110,-50)(1116,-25)(1122,-38)(1128,-32)(1134,-45)(1140,-22)(1146,-35)(1152,-28)(1158,-40)(1164,-20)(1170,-48)(1176,-30)(1182,-38)(1188,-25)(1194,-42)(1200,-32)(1206,-50)(1212,-28)(1218,-38)(1224,-22)(1230,-45)(1236,-30)(1242,-40)(1248,-25)(1254,-35)(1260,-48)(1266,-28)(1272,-40)(1274,-61)(1278,-32)(1284,-22)(1290,-45)(1296,-30)(1302,-38)(1308,-25)(1314,-42)(1320,-32)(1326,-20)(1332,-40)(1338,-28)(1344,-35)(1350,-45)(1356,-25)};
\addplot[s12] coordinates {(0,30)(5,55)(10,20)(15,42)(20,65)(25,28)(30,48)(35,35)(40,60)(45,22)(50,40)(55,52)(60,30)(65,70)(70,45)(75,25)(80,58)(85,38)(90,80)(95,50)(100,32)(105,68)(110,42)(115,88)(120,55)(125,35)(130,75)(135,48)(140,62)(145,95)(150,40)(155,70)(160,52)(165,85)(170,30)(175,60)(180,45)(185,78)(190,92)(195,55)(200,38)(205,72)(210,48)(215,98)(220,62)(225,35)(230,80)(235,52)(240,68)(245,90)(250,42)(255,75)(260,58)(265,85)(270,38)(275,65)(280,50)(285,95)(290,72)(295,45)(300,82)(305,55)(310,68)(315,35)(320,90)(325,60)(330,75)(335,48)(340,98)(345,62)(350,40)(355,85)(360,55)(365,70)(370,92)(375,45)(380,78)(385,60)(390,100)(395,50)(400,72)(405,38)(410,88)(415,58)(420,68)(425,95)(430,45)(435,80)(440,55)(445,70)(450,35)(455,90)(460,62)(465,48)(470,75)(475,98)(480,52)(485,65)(490,42)(495,85)(500,58)(505,30)(510,72)(515,48)(520,60)(525,90)(530,40)(535,68)(540,52)(545,78)(550,35)(555,62)(560,45)(565,85)(570,55)(575,70)(580,38)(585,60)(590,48)(595,75)(600,30)(605,58)(610,42)(615,68)(620,95)(625,50)(630,35)(635,78)(640,45)(645,98)(650,62)(655,40)(660,72)(665,52)(670,30)(675,65)(680,85)(685,45)(690,58)(695,38)(700,70)(705,50)(710,92)(715,62)(720,42)(725,78)(730,55)(735,35)(740,68)(745,88)(750,48)(755,60)(760,98)(765,72)(770,40)(775,85)(780,58)(785,45)(790,75)(795,62)(800,92)(805,50)(810,68)(815,38)(820,80)(825,55)(830,72)(835,45)(840,62)(845,35)(850,78)(855,52)(860,90)(865,60)(870,42)(875,70)(880,98)(885,55)(890,82)(895,65)(900,48)(905,92)(910,72)(915,58)(920,85)(925,45)(930,100)(935,68)(940,52)(945,80)(950,62)(955,40)(960,88)(965,55)(970,72)(975,45)(980,95)(985,60)(990,35)(995,78)(1000,50)(1005,65)(1010,85)(1015,42)(1020,70)(1025,55)(1030,95)(1035,62)(1040,38)(1045,80)(1050,52)(1055,68)(1060,45)(1065,88)(1070,58)(1075,72)(1080,40)(1085,92)(1090,62)(1095,50)(1100,78)(1105,35)(1110,65)(1115,48)(1120,82)(1125,55)(1130,68)(1135,98)(1140,42)(1145,72)(1150,58)(1155,85)(1160,38)(1165,62)(1170,50)(1175,92)(1180,70)(1185,45)(1190,80)(1195,60)(1200,100)(1205,52)(1210,75)(1215,40)(1220,88)(1225,62)(1230,48)(1235,95)(1240,70)(1245,55)(1250,82)(1255,42)(1260,68)(1265,58)(1270,90)(1275,48)(1280,72)(1285,35)(1290,62)(1295,52)(1300,78)(1305,45)(1310,85)(1315,60)(1320,40)(1325,70)(1330,55)(1335,92)(1340,48)(1345,65)(1350,80)(1355,58)};
\addplot[s13] coordinates {(0,-30)(6,-45)(12,-22)(18,-55)(24,-35)(28,-72)(30,-25)(36,-50)(42,-38)(48,-60)(54,-28)(60,-45)(66,-20)(72,-52)(78,-35)(84,-62)(90,-40)(96,-25)(102,-55)(108,-32)(114,-45)(120,-20)(126,-50)(132,-38)(138,-28)(144,-58)(150,-42)(156,-30)(162,-48)(168,-22)(174,-38)(180,-52)(186,-30)(192,-45)(198,-68)(204,-25)(206,-75)(210,-40)(216,-32)(222,-48)(228,-22)(234,-38)(240,-28)(246,-45)(252,-20)(258,-35)(264,-50)(270,-28)(276,-40)(282,-18)(288,-35)(294,-25)(300,-45)(306,-30)(312,-20)(318,-40)(324,-88)(324,-55)(330,-65)(334,-75)(338,-50)(342,-60)(346,-40)(352,-30)(358,-45)(364,-20)(370,-35)(376,-25)(382,-15)(388,-40)(394,-28)(400,-18)(406,-32)(412,-22)(418,-38)(424,-15)(430,-28)(436,-20)(442,-35)(448,-12)(454,-25)(460,-18)(466,-32)(472,-22)(478,-40)(484,-15)(490,-28)(496,-35)(502,-20)(508,-30)(514,-45)(520,-25)(526,-38)(532,-18)(538,-30)(544,-42)(550,-22)(556,-35)(562,-28)(568,-48)(574,-20)(580,-32)(586,-40)(592,-25)(598,-35)(604,-18)(610,-30)(616,-45)(622,-22)(628,-38)(634,-28)(640,-50)(646,-35)(652,-58)(658,-42)(664,-65)(670,-50)(674,-75)(678,-60)(682,-85)(686,-55)(690,-70)(694,-92)(698,-62)(702,-80)(706,-98)(710,-55)(714,-72)(718,-45)(722,-90)(726,-60)(730,-38)(736,-50)(742,-28)(748,-40)(754,-55)(760,-32)(766,-45)(772,-22)(778,-38)(784,-50)(790,-28)(796,-42)(802,-20)(808,-35)(814,-48)(820,-25)(826,-40)(832,-18)(838,-30)(844,-22)(850,-38)(856,-15)(862,-28)(868,-42)(874,-20)(880,-35)(886,-50)(892,-25)(898,-40)(904,-55)(910,-30)(916,-45)(922,-20)(928,-35)(934,-25)(940,-15)(946,-30)(952,-22)(958,-38)(964,-18)(970,-28)(976,-35)(982,-15)(988,-25)(994,-40)(1000,-20)(1006,-32)(1012,-22)(1018,-45)(1024,-28)(1030,-18)(1036,-35)(1042,-25)(1048,-42)(1054,-15)(1060,-30)(1066,-22)(1072,-38)(1078,-18)(1084,-28)(1090,-40)(1096,-20)(1102,-32)(1108,-15)(1114,-25)(1120,-38)(1126,-22)(1132,-30)(1138,-18)(1144,-35)(1150,-25)(1156,-42)(1162,-20)(1168,-30)(1174,-15)(1180,-28)(1186,-38)(1192,-22)(1198,-32)(1204,-18)(1210,-25)(1216,-40)(1222,-20)(1228,-30)(1234,-15)(1240,-28)(1246,-35)(1252,-22)(1258,-18)(1264,-32)(1270,-25)(1276,-40)(1282,-20)(1288,-30)(1294,-15)(1300,-28)(1306,-38)(1312,-22)(1318,-18)(1324,-32)(1330,-25)(1336,-15)(1342,-30)(1348,-22)(1355,-35)};
\end{axis}
\begin{axis}[hi, at={(543.5pt,29pt)}, anchor=south west, xlabel={Occurrences (-)}]
\addplot[dot] coordinates {(0,80)(4000,80)};
\addplot[dot] coordinates {(0,-80)(4000,-80)};
\addplot[bars] coordinates {(58,96)(97,86.4)(135,76.8)(174,67.2)(174,57.6)(270,48)(203,38.4)(184,28.8)(174,19.2)(444,9.6)(782,0)(966,-9.6)(850,-19.2)(966,-28.8)(638,-38.4)(319,-48)(77,-57.6)(29,-67.2)(15,-76.8)(10,-86.4)};
\end{axis}
\node[tag] at (49.9pt,264.5pt) {HO};
\node[tag] at (349.9pt,264.5pt) {TO};
\node[tag] at (49.5pt,134.8pt) {HS};
\node[tag] at (348.7pt,134.8pt) {FF};
\pgfresetboundingbox
\path[use as bounding box] (0pt,0pt) rectangle (624pt,295.5pt);
\end{tikzpicture}
\end{document}
